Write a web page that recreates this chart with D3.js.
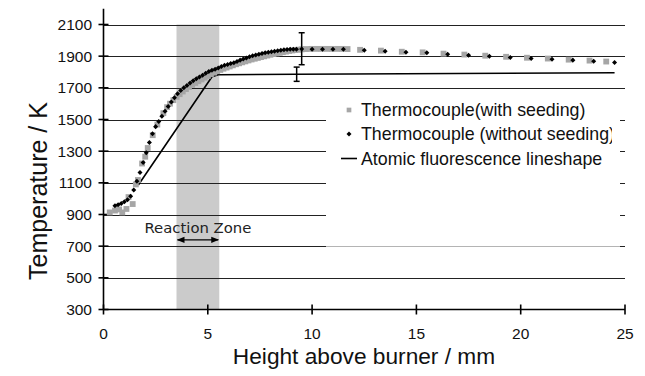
<!DOCTYPE html>
<html><head><meta charset="utf-8">
<script src="https://cdn.jsdelivr.net/npm/d3@7"></script>
<style>html,body{margin:0;padding:0;background:#fff;overflow:hidden;} svg{display:block;}</style>
</head><body>
<svg id="c" width="645" height="376"></svg>
<script>
// ---- data ----
const xTicks = [0, 5, 10, 15, 20, 25];
const yTicks = [300, 500, 700, 900, 1100, 1300, 1500, 1700, 1900, 2100];
const gridValues = [500, 700, 900, 1100, 1300, 1500, 1700, 1900, 2100];

const seedX = [0.3,0.55,0.75,0.9,1.1,1.2,1.4,1.55,1.65,1.85,2.0,2.12,2.36,2.58,2.87,3.05,3.19,3.35,3.51,3.65,3.8,3.95,4.1,4.25,4.4,4.55,4.7,4.85,5.0,5.15,5.3,5.45,5.6,5.75,5.9,6.05,6.2,6.35,6.5,6.65,6.8,6.95,7.1,7.25,7.4,7.55,7.7,7.85,8.0,8.15,8.3,8.45,8.6,8.75,8.9,9.05,9.2,9.35,9.5,9.7,9.95,10.2,10.45,10.7,10.95,11.2,11.45,11.7,12.3,13.3,14.3,15.3,16.3,17.3,18.3,19.3,20.3,21.3,22.3,23.3,24.1];
const seedT = [913,925,932,913,935,1010,966,1090,1118,1222,1265,1320,1401,1468,1540,1578,1600,1622,1643,1660,1677,1692,1706,1719,1731,1742,1753,1764,1775,1786,1796,1805,1813,1821,1828,1835,1842,1849,1855,1861,1867,1873,1879,1884,1889,1894,1899,1904,1909,1913,1917,1921,1925,1929,1933,1936,1939,1941,1943,1945,1946,1946,1946,1946,1946,1946,1946,1945,1940,1935,1928,1924,1916,1910,1903,1896,1890,1885,1878,1872,1866];

const noSeedX = [0.55,0.7,0.85,1.0,1.15,1.3,1.45,1.6,1.75,1.9,2.05,2.2,2.35,2.5,2.65,2.8,2.95,3.1,3.25,3.4,3.55,3.7,3.85,4.0,4.15,4.3,4.45,4.6,4.75,4.9,5.05,5.2,5.35,5.5,5.65,5.8,5.95,6.1,6.25,6.4,6.55,6.7,6.85,7.0,7.15,7.3,7.45,7.6,7.75,7.9,8.05,8.2,8.35,8.5,8.65,8.8,8.95,9.1,9.25,9.5,10.0,10.5,11.0,11.5,12.5,13.5,14.5,15.5,16.5,17.5,18.5,19.5,20.5,21.5,22.5,23.5,24.5];
const noSeedT = [955,962,970,980,993,1015,1054,1110,1165,1228,1290,1355,1410,1455,1488,1520,1552,1582,1610,1638,1662,1683,1700,1715,1730,1745,1757,1768,1780,1792,1803,1811,1818,1826,1834,1842,1848,1853,1859,1867,1875,1882,1889,1896,1902,1907,1912,1917,1921,1925,1928,1931,1934,1937,1940,1942,1943,1944,1944,1945,1944,1944,1944,1943,1938,1931,1925,1921,1912,1906,1900,1892,1885,1881,1875,1868,1860];

const afsX = [1.67, 5.2, 5.5, 9.26, 24.5];
const afsT = [1086, 1770, 1783, 1786, 1795];

const errX = [9.5, 9.26];
const errLow = [1846, 1741];
const errHigh = [2048, 1831];

const reactionZone = [3.5, 5.55];
const reactionLabel = "Reaction Zone";
const reactionLabelT = 785;
const reactionArrowT = 740;

const legendLabels = ["Thermocouple(with seeding)", "Thermocouple (without seeding)", "Atomic fluorescence lineshape"];
const xTitle = "Height above burner / mm";
const yTitle = "Temperature / K";

// ---- chart ----
const svg = d3.select("#c");
const FONT = "'Liberation Sans', Arial, sans-serif";
const x = d3.scaleLinear().domain([0, 25]).range([103.5, 625]);
const y = d3.scaleLinear().domain([300, 2200]).range([309.5, 309.5 - 1900 * (285 / 1800)]);

// shaded reaction zone
svg.append("rect")
  .attr("x", x(reactionZone[0])).attr("width", x(reactionZone[1]) - x(reactionZone[0]))
  .attr("y", y(2100)).attr("height", y(300) - y(2100))
  .attr("fill", "#cbcbcb");

// gridlines
svg.append("g").selectAll("line").data(gridValues).join("line")
  .attr("x1", x(0)).attr("x2", x(25))
  .attr("y1", d => Math.round(y(d)) + 0.5).attr("y2", d => Math.round(y(d)) + 0.5)
  .attr("stroke", "#222").attr("stroke-width", 1);

// legend box (white, covers gridlines)
const lg = svg.append("g");
lg.append("rect").attr("x", 326).attr("y", 96).attr("width", 294).attr("height", Math.round(y(700)) - 96 - 1)
  .attr("fill", "#fff");
lg.append("line").attr("x1", 326).attr("x2", 620)
  .attr("y1", Math.round(y(700)) + 0.5).attr("y2", Math.round(y(700)) + 0.5)
  .attr("stroke", "#b4b4b4").attr("stroke-width", 1);

// axes
const ax = svg.append("g").attr("stroke", "#000");
ax.append("line").attr("x1", x(0)).attr("x2", x(25)).attr("y1", y(300)).attr("y2", y(300)).attr("stroke-width", 1.6);
ax.append("line").attr("x1", x(0)).attr("x2", x(0)).attr("y1", y(300)).attr("y2", y(2200)).attr("stroke-width", 1.6);
ax.selectAll(".xt").data(xTicks).join("line")
  .attr("x1", d => x(d)).attr("x2", d => x(d)).attr("y1", y(300) - 5).attr("y2", y(300) + 5).attr("stroke-width", 1.6);
ax.selectAll(".yt").data(yTicks).join("line")
  .attr("x1", x(0) - 5).attr("x2", x(0) + 5).attr("y1", d => y(d)).attr("y2", d => y(d)).attr("stroke-width", 1.6);

svg.append("g").selectAll("text").data(xTicks).join("text")
  .attr("x", d => x(d)).attr("y", 339).attr("text-anchor", "middle")
  .attr("font-family", FONT).attr("font-size", 15.5).attr("fill", "#111").text(d => d);
svg.append("g").selectAll("text").data(yTicks).join("text")
  .attr("x", 92).attr("y", d => y(d) + 5.5).attr("text-anchor", "end")
  .attr("font-family", FONT).attr("font-size", 15.5).attr("fill", "#111").text(d => d);

// axis titles
svg.append("text").attr("x", 364).attr("y", 363.5).attr("text-anchor", "middle")
  .attr("font-family", FONT).attr("font-size", 22.7).attr("fill", "#111").text(xTitle);
svg.append("text").attr("transform", "translate(47,191) rotate(-90)").attr("text-anchor", "middle")
  .attr("font-family", FONT).attr("font-size", 25).attr("fill", "#111").text(yTitle);

// atomic fluorescence line
const afs = afsX.map((v, i) => [v, afsT[i]]);
svg.append("path").datum(afs)
  .attr("d", d3.line().x(d => x(d[0])).y(d => y(d[1])))
  .attr("fill", "none").attr("stroke", "#000").attr("stroke-width", 1.6);

// series markers
const seed = seedX.map((v, i) => [v, seedT[i]]);
const noSeed = noSeedX.map((v, i) => [v, noSeedT[i]]);
const sq = d3.symbol().type(d3.symbolSquare).size(34);
const dm = d3.symbol().type(d3.symbolDiamond2).size(16);
svg.append("g").selectAll("path").data(seed).join("path")
  .attr("transform", d => `translate(${x(d[0])},${y(d[1])})`).attr("d", sq).attr("fill", "#a6a6a6");
svg.append("g").selectAll("path").data(noSeed).join("path")
  .attr("transform", d => `translate(${x(d[0])},${y(d[1])})`).attr("d", dm).attr("fill", "#000");

// error bars
const eb = svg.append("g").attr("stroke", "#000").attr("stroke-width", 1.5);
errX.forEach((v, i) => {
  eb.append("line").attr("x1", x(v)).attr("x2", x(v)).attr("y1", y(errLow[i])).attr("y2", y(errHigh[i]));
  [errLow[i], errHigh[i]].forEach(t => eb.append("line").attr("x1", x(v) - 3).attr("x2", x(v) + 3).attr("y1", y(t)).attr("y2", y(t)));
});

// reaction zone annotation
svg.append("text").attr("x", x((reactionZone[0] + reactionZone[1]) / 2)).attr("y", y(reactionLabelT))
  .attr("text-anchor", "middle").attr("font-family", "'DejaVu Sans', sans-serif").attr("font-size", 14)
  .attr("textLength", 107).attr("lengthAdjust", "spacingAndGlyphs")
  .attr("fill", "#222").text(reactionLabel);
const defs = svg.append("defs");
defs.append("marker").attr("id", "ah").attr("viewBox", "0 0 10 10").attr("refX", 9).attr("refY", 5)
  .attr("markerWidth", 6).attr("markerHeight", 6).attr("orient", "auto-start-reverse")
  .append("path").attr("d", "M0,1 L10,5 L0,9 Z").attr("fill", "#000");
svg.append("line").attr("x1", x(reactionZone[0]) + 1).attr("x2", x(reactionZone[1]) - 1)
  .attr("y1", y(reactionArrowT)).attr("y2", y(reactionArrowT))
  .attr("stroke", "#000").attr("stroke-width", 1.3)
  .attr("marker-start", "url(#ah)").attr("marker-end", "url(#ah)");

// legend
defs.append("clipPath").attr("id", "lc").append("rect").attr("x", 320).attr("y", 90).attr("width", 292).attr("height", 160);
const rowsY = [110, 134, 158.5];
const lgi = svg.append("g").attr("clip-path", "url(#lc)");
lgi.append("path").attr("transform", `translate(349,${rowsY[0]})`).attr("d", d3.symbol().type(d3.symbolSquare).size(22)).attr("fill", "#a6a6a6");
lgi.append("path").attr("transform", `translate(349,${rowsY[1]})`).attr("d", dm).attr("fill", "#000");
lgi.append("line").attr("x1", 341).attr("x2", 357).attr("y1", rowsY[2]).attr("y2", rowsY[2]).attr("stroke", "#000").attr("stroke-width", 1.6);
lgi.selectAll("text").data(legendLabels).join("text")
  .attr("x", 361).attr("y", (d, i) => rowsY[i] + 6)
  .attr("font-family", FONT).attr("font-size", 17.8).attr("fill", "#111").text(d => d);
</script>
</body></html>
